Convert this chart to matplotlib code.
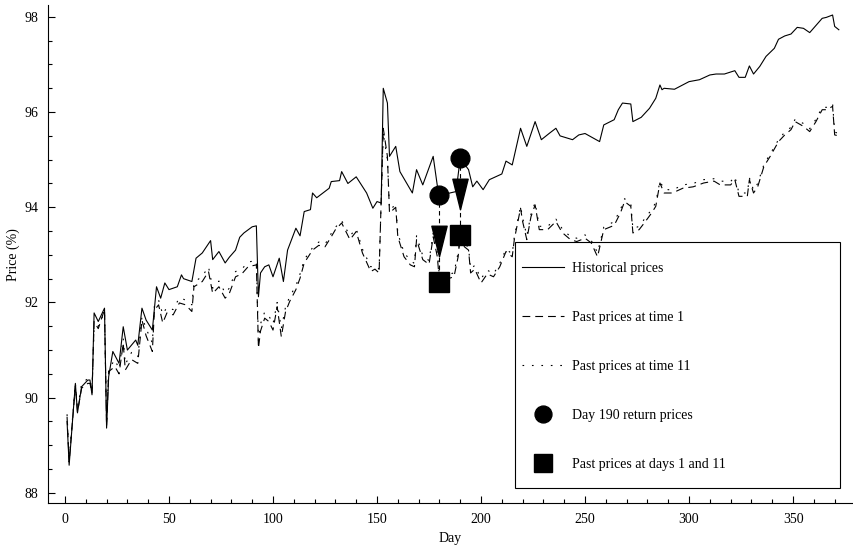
import numpy as np
import matplotlib
matplotlib.use("Agg")
import matplotlib.pyplot as plt
from matplotlib.path import Path
from matplotlib.patches import Rectangle
from matplotlib.ticker import MultipleLocator

plt.rcParams['font.family'] = ['Liberation Serif', 'DejaVu Serif']
plt.rcParams['font.size'] = 10

# Historical prices (solid)
hist_days = [1, 2, 5, 6, 8, 11, 12, 13, 14, 16, 19, 20, 21, 23, 26, 28, 30, 34, 35, 37,
             39, 42, 44, 46, 48, 50, 54, 56, 57, 61, 63, 66, 70, 71, 74, 77, 79, 82, 84, 86,
             90, 92, 93, 94, 96, 98, 100, 103, 105, 107, 111, 113, 115, 118, 119, 121, 127, 128, 132, 133,
             136, 140, 145, 148, 150, 152, 153, 155, 156, 159, 161, 167, 169, 172, 177, 179, 180, 188, 190, 194,
             196, 198, 201, 204, 207, 210, 212, 215, 219, 222, 226, 229, 233, 236, 238, 244, 247, 250, 257, 259,
             264, 266, 268, 272, 273, 277, 281, 284, 286, 287, 288, 293, 300, 305, 310, 313, 317, 322, 324, 327,
             329, 331, 334, 337, 341, 343, 346, 349, 352, 355, 358, 364, 366, 369, 370, 372]
hist_prices = [89.5, 88.58, 90.3, 89.68, 90.23, 90.37, 90.37, 90.06, 91.78, 91.6, 91.88, 89.36, 90.44, 90.97, 90.72, 91.49, 91.0, 91.21, 91.1, 91.88,
               91.63, 91.42, 92.33, 92.09, 92.41, 92.27, 92.33, 92.58, 92.5, 92.44, 92.93, 93.04, 93.3, 92.9, 93.07, 92.83, 92.95, 93.1, 93.37, 93.46,
               93.59, 93.61, 92.12, 92.62, 92.75, 92.79, 92.54, 92.93, 92.44, 93.1, 93.56, 93.4, 93.91, 93.95, 94.3, 94.2, 94.4, 94.54, 94.56, 94.75,
               94.5, 94.64, 94.3, 93.98, 94.12, 94.09, 96.5, 96.19, 95.07, 95.28, 94.75, 94.3, 94.79, 94.47, 95.07, 94.45, 94.25, 94.33, 95.03, 94.79,
               94.43, 94.55, 94.37, 94.58, 94.64, 94.7, 94.97, 94.89, 95.66, 95.28, 95.8, 95.42, 95.56, 95.66, 95.5, 95.42, 95.52, 95.55, 95.38, 95.73,
               95.84, 96.05, 96.19, 96.17, 95.8, 95.89, 96.08, 96.29, 96.57, 96.47, 96.5, 96.48, 96.64, 96.68, 96.78, 96.8, 96.8, 96.87, 96.73, 96.73,
               96.97, 96.8, 96.96, 97.17, 97.34, 97.53, 97.6, 97.64, 97.78, 97.76, 97.67, 97.97, 97.99, 98.04, 97.8, 97.73]

# Past prices at time 1 (dashed) and time 11 (dotted)
past_days = [1, 2, 5, 6, 8, 11, 12, 13, 14, 16, 19, 20, 21, 24, 26, 28, 29, 32, 35, 37,
             39, 42, 43, 45, 47, 49, 52, 55, 58, 61, 62, 66, 69, 71, 74, 77, 79, 82, 85, 88,
             92, 93, 94, 96, 98, 100, 102, 104, 106, 108, 111, 113, 115, 119, 122, 125, 128, 130, 133, 137,
             140, 143, 147, 149, 151, 153, 155, 156, 159, 160, 163, 166, 168, 169, 172, 175, 177, 179, 180, 187,
             189, 190, 192, 194, 195, 197, 200, 203, 206, 209, 212, 215, 216, 219, 220, 222, 224, 226, 228, 232,
             236, 239, 243, 246, 250, 253, 256, 259, 264, 267, 269, 272, 273, 276, 279, 282, 284, 286, 288, 292,
             297, 302, 307, 312, 315, 320, 322, 324, 328, 329, 331, 333, 336, 339, 343, 346, 349, 351, 355, 358,
             361, 364, 366, 369, 370, 372]
past_t1 = [89.6, 88.65, 90.25, 89.7, 90.2, 90.3, 90.3, 90.1, 91.6, 91.45, 91.85, 89.4, 90.55, 90.65, 90.5, 91.14, 90.58, 90.8, 90.72, 91.63,
           91.3, 90.97, 91.84, 91.95, 91.57, 91.78, 91.74, 91.99, 91.95, 91.81, 92.33, 92.44, 92.65, 92.19, 92.33, 92.09, 92.19, 92.54, 92.6, 92.75,
           92.79, 91.04, 91.4, 91.67, 91.6, 91.42, 91.91, 91.28, 91.8, 92.02, 92.27, 92.51, 92.83, 93.1, 93.2, 93.17, 93.38, 93.53, 93.67, 93.32,
           93.49, 93.04, 92.65, 92.7, 92.62, 95.66, 95.07, 93.88, 94.0, 93.38, 92.96, 92.79, 92.75, 93.32, 92.9, 92.8, 93.38, 92.96, 92.44, 92.54,
           92.96, 93.42, 93.17, 93.1, 92.62, 92.7, 92.41, 92.6, 92.54, 92.75, 93.07, 92.96, 93.32, 93.98, 93.7, 93.32, 93.8, 94.05, 93.53, 93.53,
           93.7, 93.47, 93.32, 93.28, 93.35, 93.25, 92.96, 93.53, 93.62, 93.88, 94.12, 94.02, 93.46, 93.53, 93.7, 93.88, 94.02, 94.51, 94.3, 94.3,
           94.4, 94.43, 94.51, 94.55, 94.47, 94.47, 94.58, 94.23, 94.23, 94.58, 94.3, 94.43, 94.86, 95.07, 95.38, 95.52, 95.63, 95.8, 95.7, 95.59,
           95.8, 96.05, 96.05, 96.12, 95.52, 95.5]
past_t11 = [89.65, 88.7, 90.3, 89.75, 90.3, 90.4, 90.4, 90.15, 91.5, 91.5, 91.8, 89.45, 90.6, 90.8, 90.6, 91.25, 90.7, 90.95, 90.85, 91.7,
            91.45, 91.15, 91.95, 92.05, 91.75, 91.9, 91.85, 92.1, 92.05, 91.95, 92.42, 92.55, 92.75, 92.3, 92.45, 92.2, 92.3, 92.65, 92.7, 92.85,
            92.88, 91.2, 91.55, 91.8, 91.72, 91.55, 92.0, 91.45, 91.9, 92.12, 92.35, 92.6, 92.9, 93.15, 93.27, 93.22, 93.45, 93.58, 93.72, 93.4,
            93.55, 93.12, 92.75, 92.78, 92.7, 95.55, 95.0, 93.95, 94.05, 93.45, 93.05, 92.88, 92.82, 93.4, 92.98, 92.88, 93.45, 93.05, 92.55, 92.62,
            93.05, 93.35, 93.25, 93.15, 92.7, 92.78, 92.5, 92.68, 92.6, 92.82, 93.12, 93.02, 93.38, 94.02, 93.78, 93.4, 93.85, 94.1, 93.6, 93.6,
            93.75, 93.55, 93.38, 93.35, 93.42, 93.3, 93.05, 93.58, 93.7, 93.95, 94.18, 94.08, 93.55, 93.6, 93.78, 93.95, 94.1, 94.55, 94.38, 94.36,
            94.47, 94.5, 94.58, 94.6, 94.55, 94.54, 94.65, 94.3, 94.3, 94.62, 94.36, 94.5, 94.9, 95.12, 95.42, 95.58, 95.68, 95.85, 95.76, 95.65,
            95.85, 96.1, 96.1, 96.18, 95.58, 95.55]

# Day 190 return prices (circles) and past prices at days 1 and 11 (squares)
circle_days = [180, 190]
circle_prices = [94.25, 95.03]
square_days = [180, 190]
square_prices = [92.44, 93.42]

fig = plt.figure(figsize=(8.54, 5.50), dpi=100)
ax = fig.add_axes([0.0566, 0.0849, 0.9422, 0.906])

ax.plot(hist_days, hist_prices, color='black', lw=0.8, label='Historical prices')
ax.plot(past_days, past_t1, color='black', lw=0.8, dashes=(7, 4.5), label='Past prices at time 1')
ax.plot(past_days, past_t11, color='black', lw=0.8, dashes=(1.5, 7), label='Past prices at time 11')

# arrows from return prices down to past prices
head = Path([(-0.25, 0.5), (0.25, 0.5), (0, -0.5), (-0.25, 0.5)],
            [Path.MOVETO, Path.LINETO, Path.LINETO, Path.CLOSEPOLY])
for d, c, s in zip(circle_days, circle_prices, square_prices):
    ax.plot([d, d], [c, s], color='black', lw=0.8, dashes=(4, 3))
    ax.plot(d, s + 0.85, marker=head, ms=22, color='black', ls='none')

ax.plot(circle_days, circle_prices, 'o', color='black', ms=13.5, ls='none',
        label='Day 190 return prices')
ax.plot(square_days, square_prices, 's', color='black', ms=14, ls='none',
        label='Past prices at days 1 and 11')

ax.set_xlim(-8, 378.8)
ax.set_ylim(87.78, 98.25)
ax.xaxis.set_major_locator(MultipleLocator(50))
ax.xaxis.set_minor_locator(MultipleLocator(10))
ax.yaxis.set_major_locator(MultipleLocator(2))
ax.yaxis.set_minor_locator(MultipleLocator(0.5))
ax.tick_params(which='both', direction='in', width=0.8)
ax.tick_params(which='major', length=5, pad=7)
ax.tick_params(which='minor', length=3)
ax.spines['top'].set_visible(False)
ax.spines['right'].set_visible(False)
ax.set_xlabel('Day', labelpad=4)
ax.set_ylabel('Price (%)', labelpad=3)

ax.add_patch(Rectangle((0.58, 0.031), 0.404, 0.493, transform=ax.transAxes,
                       fill=False, edgecolor='black', lw=0.8, zorder=1))
ax.legend(loc='upper left', bbox_to_anchor=(0.5887, 0.485), frameon=False,
          borderpad=0, borderaxespad=0, labelspacing=2.6, handlelength=3.0,
          handletextpad=0.6, fontsize=10, markerscale=0.9)

fig.savefig('out.png', dpi=100)
